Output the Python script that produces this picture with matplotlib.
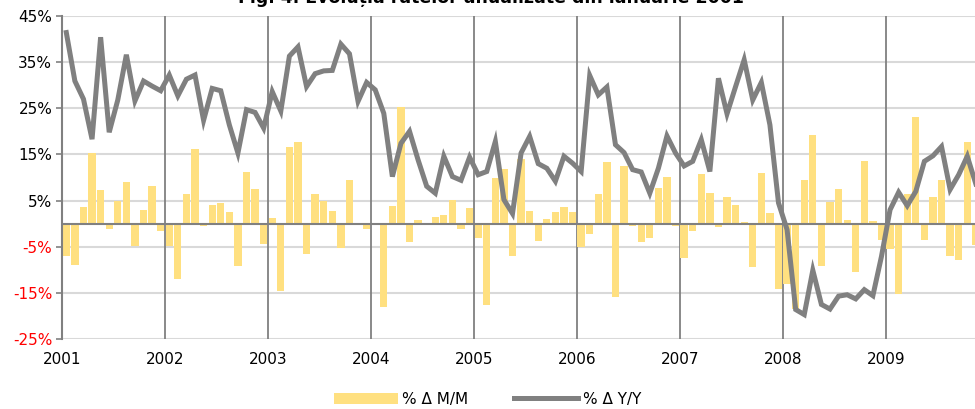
import matplotlib
matplotlib.use('Agg')
import matplotlib.pyplot as plt
import numpy as np

# Monthly series, Jan 2001 onwards
mm = [-7.1, -9.0, 3.6, 15.4, 7.4, -1.2, 5.0, 9.0, -4.8, 3.0, 8.1, -1.5,
      -4.8, -12.0, 6.5, 16.2, -0.4, 4.1, 4.5, 2.6, -9.1, 11.1, 7.6, -4.3,
      1.2, -14.6, 16.7, 17.8, -6.5, 6.4, 5.0, 2.7, -5.3, 9.4, -0.3, -1.1,
      0.0, -18.1, 3.9, 25.2, -4.0, 0.9, 0.1, 1.4, 1.9, 5.1, -1.1, 3.5,
      -3.2, -17.7, 10.0, 11.8, -6.9, 14.1, 2.8, -3.7, 1.0, 2.6, 3.7, 2.6,
      -5.1, -2.2, 6.4, 13.3, -15.9, 12.5, -0.6, -4.0, -3.2, 7.7, 10.2, -0.4,
      -7.4, -1.5, 10.8, 6.7, -0.7, 5.8, 4.0, 0.4, -9.4, 11.0, 2.3, -14.1,
      -13.0, -18.5, 9.5, 19.2, -9.1, 4.8, 7.5, 0.7, -10.5, 13.6, 0.6, -3.5,
      -5.4, -15.2, 6.5, 23.0, -3.6, 5.7, 9.4, -7.1, -7.9, 17.7, -4.6]
yy = [41.4, 30.9, 27.0, 18.3, 40.4, 19.8, 26.8, 36.6, 26.6, 30.9, 29.8, 28.8,
      32.2, 27.7, 31.3, 32.2, 22.4, 29.3, 28.8, 21.4, 15.3, 24.7, 24.1, 20.7,
      28.6, 24.4, 36.3, 38.3, 29.7, 32.5, 33.1, 33.2, 38.9, 36.8, 26.5, 30.6,
      29.0, 23.9, 10.2, 17.4, 20.0, 13.8, 8.1, 6.6, 14.6, 10.2, 9.4, 14.4,
      10.6, 11.3, 17.8, 5.2, 2.2, 15.3, 18.9, 13.0, 12.0, 9.2, 14.6, 13.1,
      11.3, 32.1, 27.9, 29.6, 17.1, 15.4, 11.7, 11.2, 6.6, 12.0, 19.0, 15.3,
      12.5, 13.5, 18.2, 11.3, 31.5, 23.8, 29.7, 35.5, 26.8, 30.6, 21.4, 4.5,
      -1.3, -18.6, -19.7, -10.1, -17.5, -18.5, -15.7, -15.4, -16.3, -14.3, -15.6, -7.1,
      3.0, 6.8, 3.9, 7.0, 13.5, 14.7, 16.7, 7.4, 10.6, 14.6, 8.6]
years = ['2001', '2002', '2003', '2004', '2005', '2006', '2007', '2008', '2009']
yticks = [-25, -15, -5, 5, 15, 25, 35, 45]

x = np.arange(len(mm))

fig = plt.figure(figsize=(9.75, 4.09), dpi=100)
ax = fig.add_axes([0.0636, 0.171, 0.9364, 0.790])

bars = ax.bar(x, mm, width=0.85, color='#FFE080', zorder=2, label='% Δ M/M')
line, = ax.plot(x, yy, color='#808080', lw=3.6, solid_joinstyle='miter',
                zorder=4, label='% Δ Y/Y')

ax.set_ylim(-25, 45)
ax.set_xlim(-0.5, 105.9)
ax.set_yticks(yticks)
ax.set_yticklabels([f'{v}%' for v in yticks], fontsize=11)
for lab, v in zip(ax.get_yticklabels(), yticks):
    if v < 0:
        lab.set_color('red')
ax.yaxis.grid(True, color='#d9d9d9', lw=1.5, zorder=0)
ax.axhline(0, color='#808080', lw=1.5, zorder=3)

# year boundaries
bounds = [12 * k - 0.5 for k in range(len(years))]
for b in bounds[1:]:
    ax.axvline(b, color='#808080', lw=1.3, zorder=1)
ax.set_xticks(bounds)
ax.set_xticklabels(years, fontsize=11)
ax.tick_params(axis='x', length=0, pad=9)
ax.tick_params(axis='y', length=4, color='#808080', width=1.2, pad=3)

for s in ['top', 'right', 'bottom']:
    ax.spines[s].set_visible(False)
ax.spines['left'].set_color('#808080')
ax.spines['left'].set_linewidth(1.5)
ax.set_axisbelow(True)

fig.text(0.504, 0.992, 'Fig. 4. Evoluția ratelor anualizate din ianuarie 2001',
         ha='center', va='baseline', fontsize=12.5, fontweight='bold')

fig.legend([bars, line], ['% Δ M/M', '% Δ Y/Y'], loc='center',
           bbox_to_anchor=(0.50, 0.024), ncol=2, frameon=False,
           fontsize=11, handlelength=4.2, handleheight=0.7, columnspacing=3,
           handletextpad=0.3)

plt.savefig('out.png', dpi=100)
